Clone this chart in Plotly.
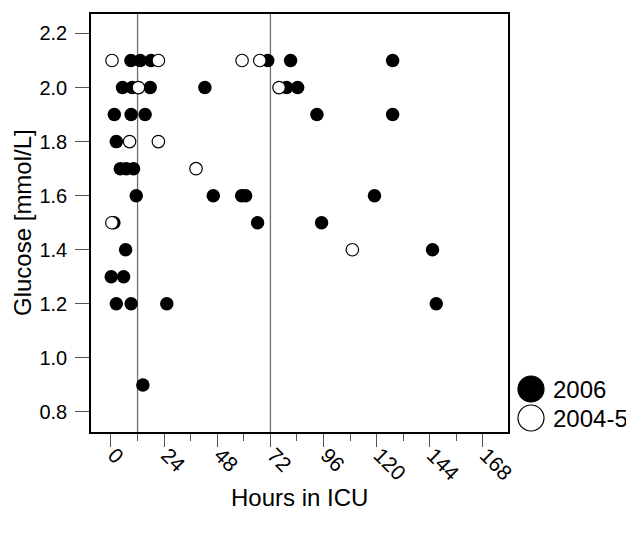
import plotly.graph_objects as go

# ---- data ----
hours_2006 = [9.0, 13.2, 18.1, 70.8, 81.1, 127.2,
              5.2, 9.6, 17.7, 42.4, 79.3, 84.3,
              1.5, 9.1, 15.4, 93.0, 127.2,
              2.4,
              4.2, 6.9, 10.2,
              11.4, 46.2, 59.0, 60.8, 119.0,
              1.3, 66.2, 95.1,
              6.6, 145.2,
              0.1, 5.7,
              2.4, 9.1, 25.2, 146.9,
              14.4]
glucose_2006 = [2.1, 2.1, 2.1, 2.1, 2.1, 2.1,
                2.0, 2.0, 2.0, 2.0, 2.0, 2.0,
                1.9, 1.9, 1.9, 1.9, 1.9,
                1.8,
                1.7, 1.7, 1.7,
                1.6, 1.6, 1.6, 1.6, 1.6,
                1.5, 1.5, 1.5,
                1.4, 1.4,
                1.3, 1.3,
                1.2, 1.2, 1.2, 1.2,
                0.9]

hours_2004_5 = [0.45, 21.4, 59.2, 67.2,
                12.4, 75.9,
                8.4, 21.4,
                38.4,
                0.4,
                109.0]
glucose_2004_5 = [2.1, 2.1, 2.1, 2.1,
                  2.0, 2.0,
                  1.8, 1.8,
                  1.7,
                  1.5,
                  1.4]

series_names = ["2006", "2004-5"]
x_title = "Hours in ICU"
y_title = "Glucose [mmol/L]"
x_ticks = [0, 24, 48, 72, 96, 120, 144, 168]
x_minor_ticks = [12, 36, 60, 84, 108, 132, 156]
y_ticks = [0.8, 1.0, 1.2, 1.4, 1.6, 1.8, 2.0, 2.2]
ref_hours = [12, 72]

FONT = "Liberation Sans, Arial, Helvetica, sans-serif"
TICKC = "#555555"

# page has an 8px body margin; positions below are in plotly pixels
W, H = 626, 527
ML, MT = 83, 6
PW, PH = 417, 418
MR = W - ML - PW
MB = H - MT - PH

fig = go.Figure()
fig.add_trace(go.Scatter(
    x=hours_2006, y=glucose_2006, mode="markers", name=series_names[0],
    marker=dict(size=13.5, color="black", line=dict(width=0)),
    showlegend=False))
fig.add_trace(go.Scatter(
    x=hours_2004_5, y=glucose_2004_5, mode="markers", name=series_names[1],
    marker=dict(size=12.5, color="white", line=dict(width=1.2, color="black")),
    showlegend=False))

for h in ref_hours:
    fig.add_shape(type="line", xref="x", yref="paper", x0=h, x1=h, y0=0, y1=1,
                  line=dict(color="#707070", width=1.3), layer="below")

def px_x(px):
    return (px - ML) / PW
def px_y(py):
    return (H - MB - py) / PH

# manual legend (large symbols)
r = 13
cx = 523
leg_rows = [(381, "black", series_names[0]), (410, "white", series_names[1])]
for cy, fill, label in leg_rows:
    fig.add_shape(type="circle", xref="paper", yref="paper",
                  x0=px_x(cx - r), x1=px_x(cx + r),
                  y0=px_y(cy + r), y1=px_y(cy - r),
                  fillcolor=fill, line=dict(color="black", width=1.2))
    fig.add_annotation(xref="paper", yref="paper", x=px_x(543), y=px_y(cy),
                       text=label, showarrow=False, xanchor="left",
                       yanchor="middle", font=dict(size=24, color="black", family=FONT))

# axis titles
fig.add_annotation(xref="paper", yref="paper", x=0.5, y=px_y(489),
                   text=x_title, showarrow=False, xanchor="center", yanchor="middle",
                   font=dict(size=24, color="black", family=FONT))
fig.add_annotation(xref="paper", yref="paper", x=px_x(14), y=0.5,
                   text=y_title, showarrow=False, xanchor="center", yanchor="middle",
                   textangle=-90, font=dict(size=24, color="black", family=FONT))

fig.update_layout(
    width=W, height=H,
    margin=dict(l=ML, r=MR, t=MT, b=MB),
    plot_bgcolor="white", paper_bgcolor="white",
    font=dict(family=FONT, color="black"),
    xaxis=dict(
        range=[-9.03, 179.3], tickvals=x_ticks, ticktext=[str(v) for v in x_ticks],
        ticks="outside", ticklen=13, tickwidth=1.2, tickcolor=TICKC,
        tickangle=45, tickfont=dict(size=21), ticklabelstandoff=-12,
        ticklabelshift=3,
        showline=True, mirror=True, linecolor="black", linewidth=1.5,
        showgrid=False, zeroline=False, automargin=False,
        minor=dict(tickvals=x_minor_ticks, ticks="outside", ticklen=7,
                   tickwidth=1.2, tickcolor=TICKC, showgrid=False),
    ),
    yaxis=dict(
        range=[0.726, 2.272], tickvals=y_ticks, ticktext=["%.1f" % v for v in y_ticks],
        ticks="outside", ticklen=14, tickwidth=1.2, tickcolor=TICKC,
        tickfont=dict(size=20), ticklabelstandoff=4,
        showline=True, mirror=True, linecolor="black", linewidth=1.5,
        showgrid=False, zeroline=False, automargin=False,
    ),
)

fig.write_html("out.html")
